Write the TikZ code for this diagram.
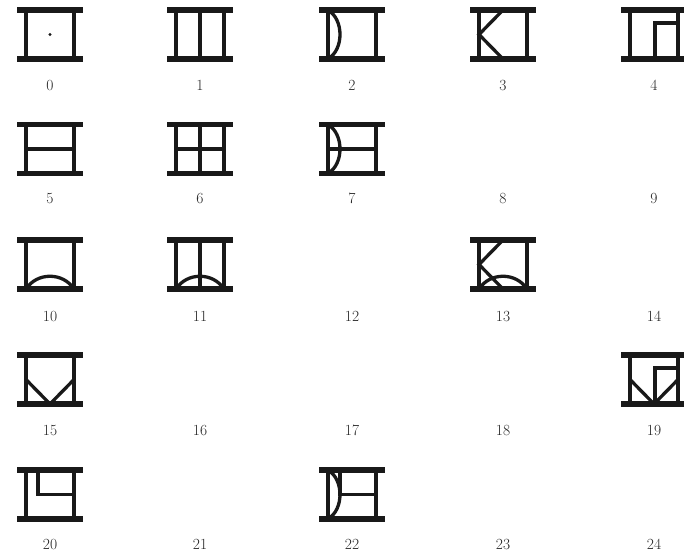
\documentclass[tikz,border=0pt]{standalone}
\begin{document}
\begin{tikzpicture}[x=1pt,y=-1pt,
  gbar/.style={line width=5.5pt,line cap=butt,draw=black!90},
  gside/.style={line width=4.8pt,line cap=butt,draw=black!90},
  gline/.style={line width=3.3pt,line cap=butt,line join=miter,draw=black!90},
  lab/.style={font=\fontsize{15.5}{18}\selectfont,text=black!85,inner sep=0pt,anchor=base},
  gframe/.pic={
    \draw[gside] (-24,-24.5) -- (-24,24.5);
    \draw[gside] (24,-24.5) -- (24,24.5);
    \draw[gbar] (-33,-24.5) -- (33,-24.5);
    \draw[gbar] (-33,24.5) -- (33,24.5);
  },
  gdot/.pic={\fill[black!90] (0,0) circle (1.7);},
  gvert/.pic={\draw[gline] (0,-24.5) -- (0,24.5);},
  ghoriz/.pic={\draw[gline] (-24,0) -- (24,0);},
  garc/.pic={\draw[gline] (-24,-24.5) .. controls (-8,-15) and (-8,15) .. (-24,24.5);},
  gK/.pic={\draw[gline] (0,-24.5) -- (-24,0) -- (0,24.5);},
  ggamma/.pic={\draw[gline] (1,24.5) -- (1,-11.5) -- (24,-11.5);},
  gbarc/.pic={\draw[gline] (-24,24.5) .. controls (-13,7.5) and (13,7.5) .. (24,24.5);},
  gV/.pic={\draw[gline] (-24,0) -- (0,24.5) -- (24,0);},
  gL/.pic={\draw[gline] (-12,-24.5) -- (-12,0) -- (24,0);}
]
\useasboundingbox (0,0) rectangle (684,555);
\fill[white] (0,0) rectangle (684,555);

% row 0
\pic at (50,34.5) {gdot};   \pic at (50,34.5) {gframe};
\pic at (200,34.5) {gvert}; \pic at (200,34.5) {gframe};
\pic at (352,34.5) {garc};  \pic at (352,34.5) {gframe};
\pic at (503,34.5) {gK};    \pic at (503,34.5) {gframe};
\pic at (654,34.5) {ggamma};\pic at (654,34.5) {gframe};
% row 1
\pic at (50,149) {ghoriz};  \pic at (50,149) {gframe};
\pic at (200,149) {ghoriz}; \pic at (200,149) {gvert}; \pic at (200,149) {gframe};
\pic at (352,149) {garc};   \pic at (352,149) {ghoriz}; \pic at (352,149) {gframe};
% row 2
\pic at (50,264.5) {gbarc};  \pic at (50,264.5) {gframe};
\pic at (200,264.5) {gbarc}; \pic at (200,264.5) {gvert}; \pic at (200,264.5) {gframe};
\pic at (503,264.5) {gK};    \pic at (503,264.5) {gbarc}; \pic at (503,264.5) {gframe};
% row 3
\pic at (50,379.5) {gV};     \pic at (50,379.5) {gframe};
\pic at (654,379.5) {gV};    \pic at (654,379.5) {ggamma}; \pic at (654,379.5) {gframe};
% row 4
\pic at (50,494.5) {gL};     \pic at (50,494.5) {gframe};
\pic at (352,494.5) {garc};  \pic at (352,494.5) {gL}; \pic at (352,494.5) {gframe};

% labels (base line positions)
\node[lab] (l0) at (50,90.5) {0};
\node[lab] (l1) at (200,90.5) {1};
\node[lab] (l2) at (352,90.5) {2};
\node[lab] (l3) at (503,90.5) {3};
\node[lab] (l4) at (654,90.5) {4};
\node[lab] (l5) at (50,203) {5};
\node[lab] (l6) at (200,203) {6};
\node[lab] (l7) at (352,203) {7};
\node[lab] (l8) at (503,203) {8};
\node[lab] (l9) at (654,203) {9};
\node[lab] (l10) at (50,321) {10};
\node[lab] (l11) at (200,321) {11};
\node[lab] (l12) at (352,321) {12};
\node[lab] (l13) at (503,321) {13};
\node[lab] (l14) at (654,321) {14};
\node[lab] (l15) at (50,435.5) {15};
\node[lab] (l16) at (200,435.5) {16};
\node[lab] (l17) at (352,435.5) {17};
\node[lab] (l18) at (503,435.5) {18};
\node[lab] (l19) at (654,435.5) {19};
\node[lab] (l20) at (50,549) {20};
\node[lab] (l21) at (200,549) {21};
\node[lab] (l22) at (352,549) {22};
\node[lab] (l23) at (503,549) {23};
\node[lab] (l24) at (654,549) {24};
\end{tikzpicture}
\end{document}
